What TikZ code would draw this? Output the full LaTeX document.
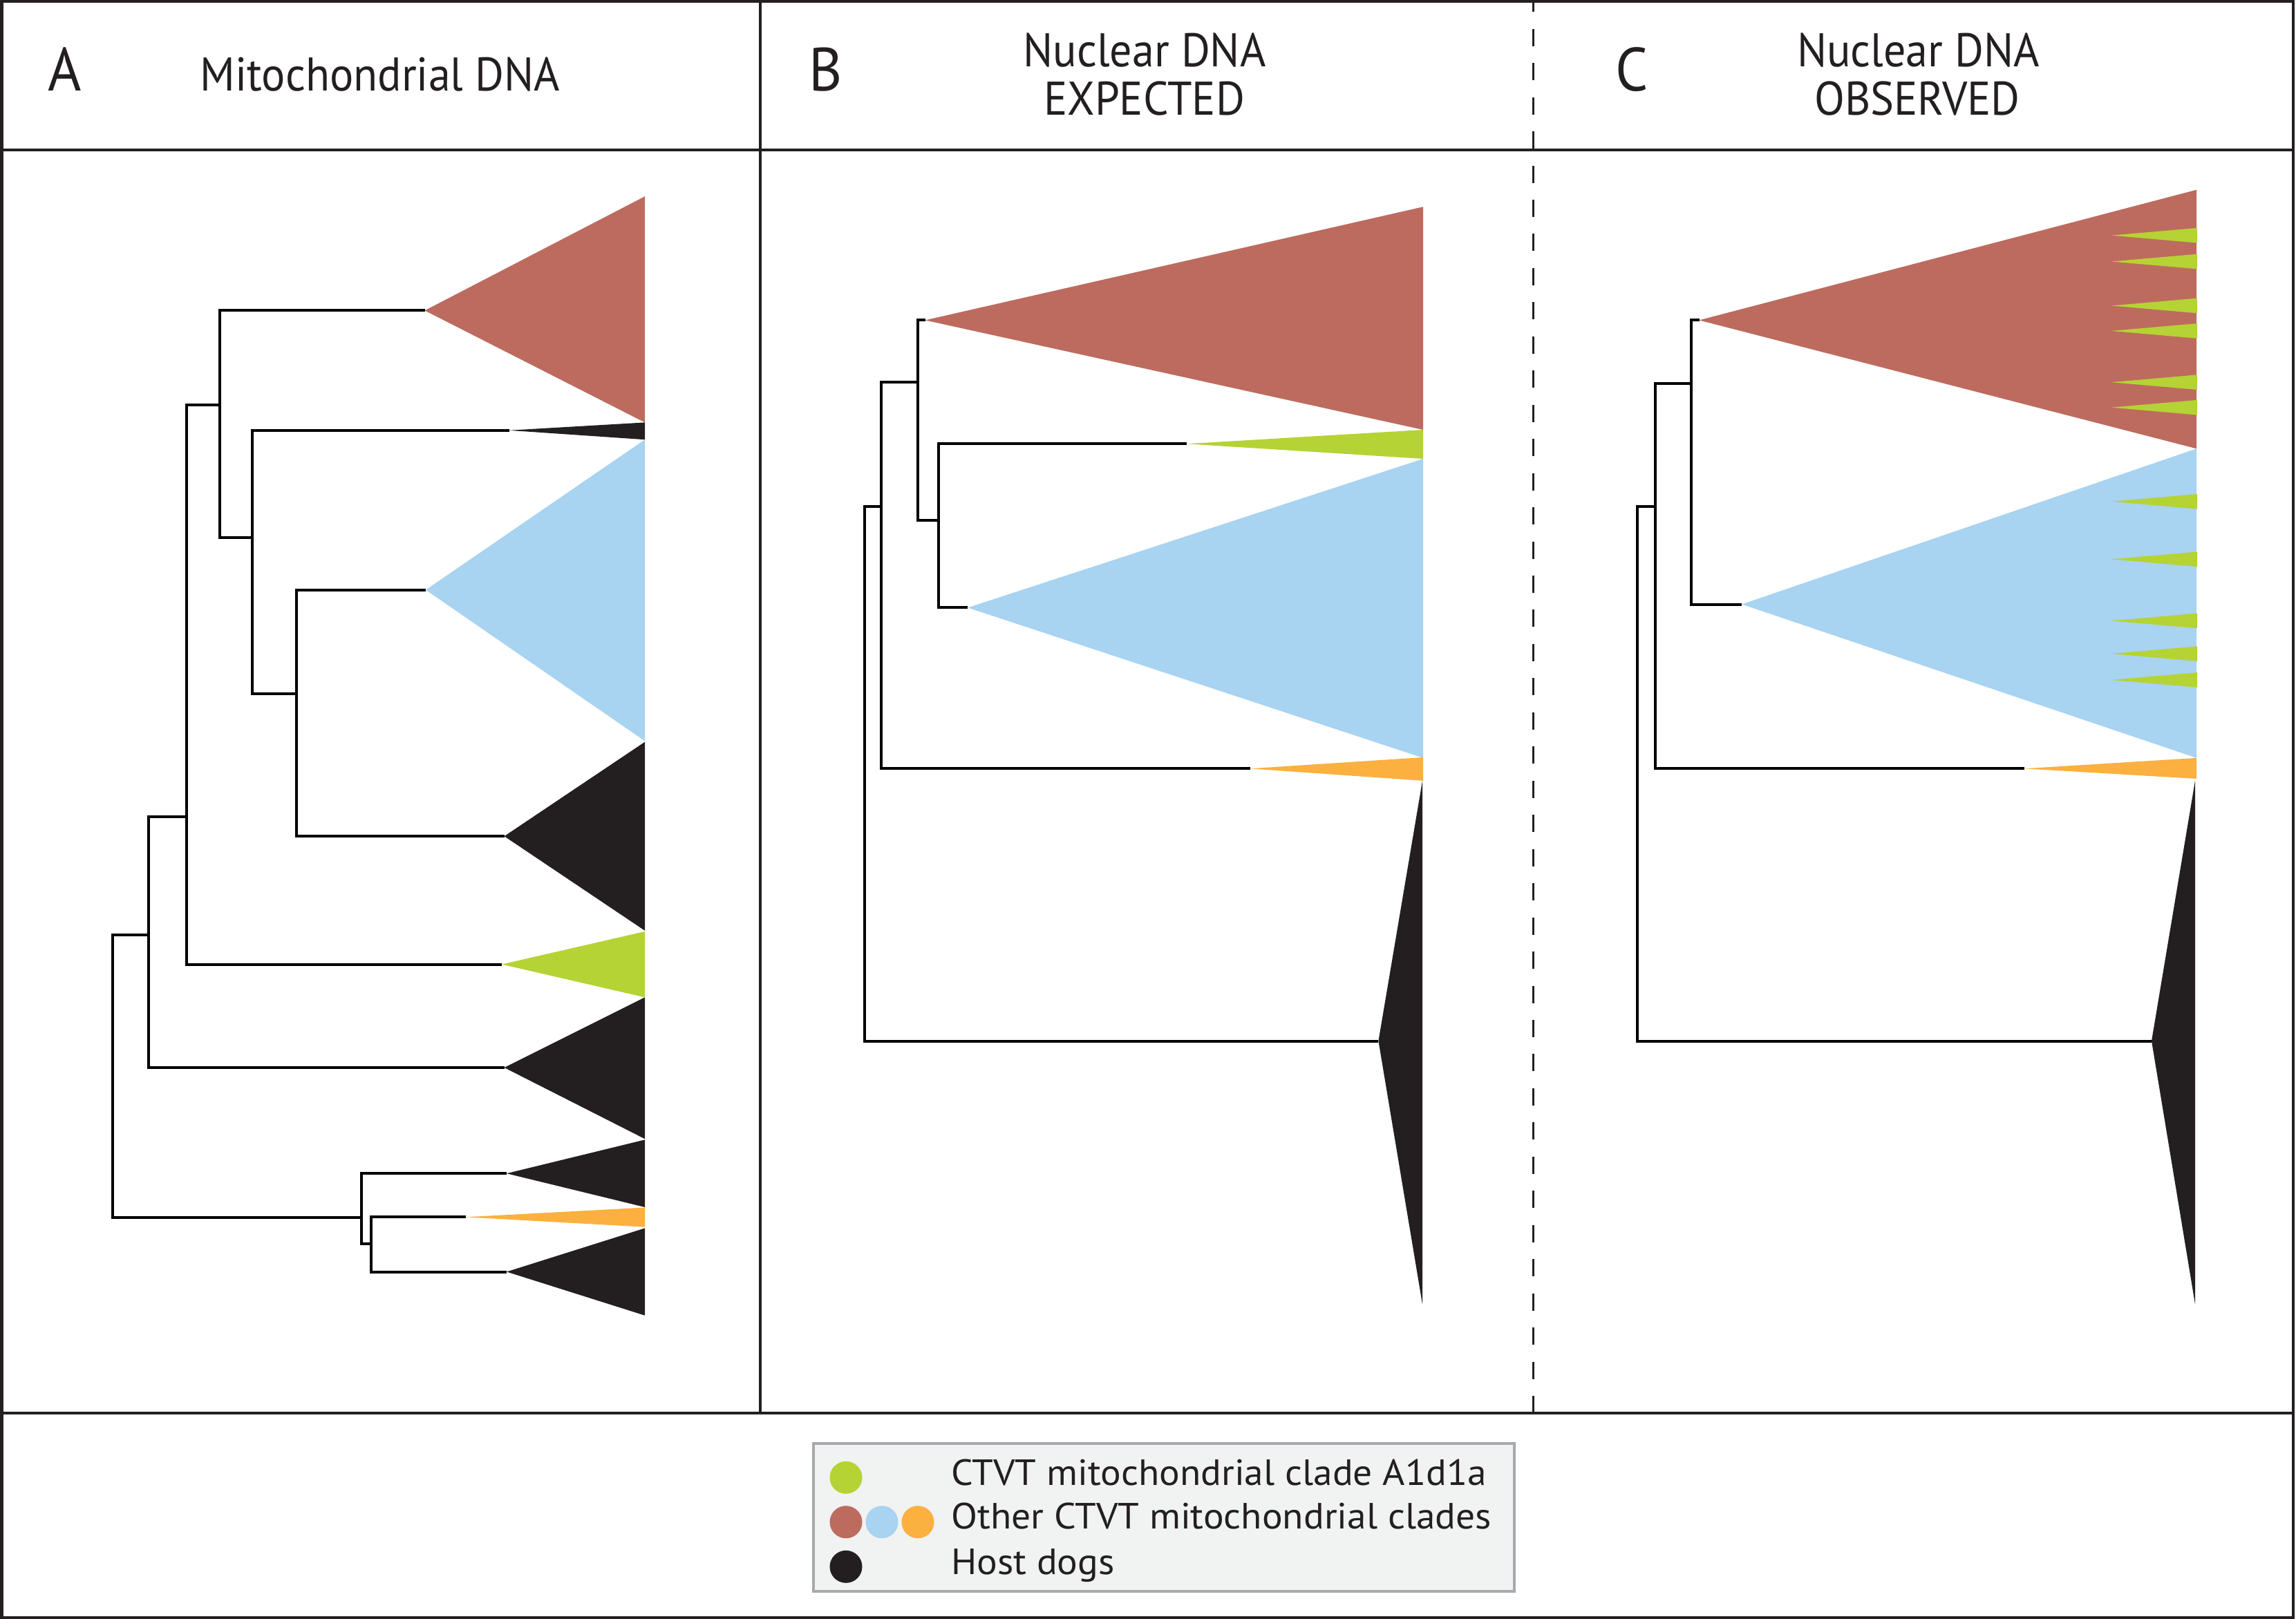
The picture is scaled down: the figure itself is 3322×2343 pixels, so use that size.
\documentclass[tikz,border=0pt]{standalone}
\usepackage{fontspec}
\setmainfont{PT Sans}
\newfontfamily\titlefont{PT Sans}[FakeStretch=0.937]
\newfontfamily\legfont{PT Sans}[FakeStretch=1.05]
\definecolor{cred}{HTML}{BD6B5F}
\definecolor{cblue}{HTML}{A8D3F1}
\definecolor{cgreen}{HTML}{B5D334}
\definecolor{corange}{HTML}{FBB040}
\definecolor{cblack}{HTML}{231F20}
\definecolor{legfill}{HTML}{F1F2F2}
\definecolor{legdraw}{HTML}{A7A9AC}
\newcommand\cladetri[5]{\fill[#1] (#2) -- (#3,#4) -- (#3,#5) -- cycle;}
\begin{document}
\begin{tikzpicture}[x=0.25pt,y=-0.25pt,
  frame/.style={draw=cblack, line width=1pt},
  dashline/.style={draw=cblack, line width=0.7pt, dash pattern=on 6.25pt off 6.115pt, dash phase=2.57pt},
  branch/.style={draw=black, line width=1pt},
  letter/.style={inner sep=0, anchor=base west, text=cblack, font=\titlefont\fontsize{22.1}{26}\selectfont},
  title/.style={inner sep=0, anchor=base, text=cblack, font=\titlefont\fontsize{17.1}{20}\selectfont},
  legtext/.style={inner sep=0, anchor=base west, text=cblack, font=\legfont\fontsize{13.2}{16}\selectfont},
  legbox/.style={draw=legdraw, fill=legfill, line width=1pt, inner sep=0, minimum width=253.5pt, minimum height=53.6pt},
  dot/.style={circle, inner sep=0, minimum size=11.75pt}
]
\useasboundingbox (0,0) rectangle (3322,2343);

% ---------- frame ----------
\draw[frame] (2.5,2.5) rectangle (3318,2341);
\draw[frame] (2.5,217) -- (3318,217);
\draw[frame] (2.5,2045) -- (3318,2045);
\draw[frame] (1099.6,2.5) -- (1099.6,2045);
\draw[dashline] (2218.5,2.5) -- (2218.5,2045);

% ---------- headers ----------
\node[letter] (hA) at (69,132) {A};
\node[title] (tA) at (550,132) {Mitochondrial DNA};
\node[letter] (hB) at (1170,132) {B};
\node[title] (tB1) at (1656,97) {Nuclear DNA};
\node[title] (tB2) at (1655.5,167) {EXPECTED};
\node[letter] (hC) at (2337,132) {C};
\node[title] (tC1) at (2775.6,97) {Nuclear DNA};
\node[title] (tC2) at (2774,167) {OBSERVED};

% ---------- panel A ----------
\coordinate (aR) at (614.5,449.4);
\coordinate (aK1) at (736.6,622.8);
\coordinate (aB) at (616,853.7);
\coordinate (aK2) at (729.6,1210.2);
\coordinate (aG) at (726,1395.6);
\coordinate (aK3) at (729.6,1545);
\coordinate (aK4) at (733,1698.2);
\coordinate (aO) at (673.5,1761.3);
\coordinate (aK5) at (733,1840.5);
\coordinate (an1) at (317.8,585.8);
\coordinate (an3) at (364.8,778.4);
\coordinate (an4) at (429.3,1003.6);
\coordinate (an2) at (270,1182);
\coordinate (an5) at (215.4,1352.6);
\coordinate (an6) at (162.8,1557);
\coordinate (an7) at (522.6,1761.9);
\coordinate (an8) at (536.7,1800.4);

\draw[branch] (an1) |- (aR);
\draw[branch] (an1) |- (an3);
\draw[branch] (an3) |- (aK1);
\draw[branch] (an3) |- (an4);
\draw[branch] (an4) |- (aB);
\draw[branch] (an4) |- (aK2);
\draw[branch] (an2) |- (an1);
\draw[branch] (an2) |- (aG);
\draw[branch] (an5) |- (an2);
\draw[branch] (an5) |- (aK3);
\draw[branch] (an6) |- (an5);
\draw[branch] (an6) |- (an7);
\draw[branch] (an7) |- (aK4);
\draw[branch] (an7) |- (an8);
\draw[branch] (an8) |- (aO);
\draw[branch] (an8) |- (aK5);

\cladetri{cred}{aR}{933}{284.2}{611.4}
\cladetri{cblack}{aK1}{933}{611.4}{636.2}
\cladetri{cblue}{aB}{933}{636.2}{1072.4}
\cladetri{cblack}{aK2}{933}{1073.7}{1346.8}
\cladetri{cgreen}{aG}{933}{1348}{1443.3}
\cladetri{cblack}{aK3}{933}{1443.3}{1648.2}
\cladetri{cblack}{aK4}{933}{1649.4}{1747}
\cladetri{corange}{aO}{933}{1747.5}{1775.7}
\cladetri{cblack}{aK5}{933}{1777.4}{1903.7}

% ---------- panel B ----------
\coordinate (bR) at (1338.5,463.4);
\coordinate (bG) at (1717.3,642.3);
\coordinate (bB) at (1400.2,879.4);
\coordinate (bO) at (1808.5,1112.3);
\coordinate (bK) at (1994.4,1506.5);
\coordinate (bn1) at (1328,553.2);
\coordinate (bn3) at (1357.5,753.1);
\coordinate (bn2) at (1275.4,733.5);
\coordinate (bn4) at (1250.8,1120);

\draw[branch] (bn1) |- (bR);
\draw[branch] (bn1) |- (bn3);
\draw[branch] (bn3) |- (bG);
\draw[branch] (bn3) |- (bB);
\draw[branch] (bn2) |- (bn1);
\draw[branch] (bn2) |- (bO);
\draw[branch] (bn4) |- (bn2);
\draw[branch] (bn4) |- (bK);

\cladetri{cred}{bR}{2059}{299.3}{622}
\cladetri{cgreen}{bG}{2059}{622}{664}
\cladetri{cblue}{bB}{2059}{664}{1096.9}
\cladetri{corange}{bO}{2059}{1096}{1129.9}
\cladetri{cblack}{bK}{2058}{1130}{1887.4}

% ---------- panel C ----------
\coordinate (cR) at (2458.5,463.4);
\coordinate (cB) at (2520.2,874.5);
\coordinate (cO) at (2928.5,1112.3);
\coordinate (cK) at (3113,1506.5);
\coordinate (cn1) at (2446.6,554.6);
\coordinate (cn2) at (2395.4,733.5);
\coordinate (cn3) at (2368.7,1120);

\draw[branch] (cn1) |- (cR);
\draw[branch] (cn1) |- (cB);
\draw[branch] (cn2) |- (cn1);
\draw[branch] (cn2) |- (cO);
\draw[branch] (cn3) |- (cn2);
\draw[branch] (cn3) |- (cK);

\cladetri{cred}{cR}{3178}{274.7}{649.3}
\cladetri{cblue}{cB}{3178}{649.3}{1096.9}
\cladetri{corange}{cO}{3178}{1096.9}{1127}
\cladetri{cblack}{cK}{3176}{1129.8}{1887.4}

\foreach \yy [count=\i] in {340.7,378.5,442.4,478.9,553.2,589.7,725.8,809.3,898.4,946.1,984.0}{
  \coordinate (cg\i) at (3054.8,\yy);
  \fill[cgreen] (cg\i) -- (3179,\yy-10.8) -- (3179,\yy+10.8) -- cycle;
}

% ---------- legend ----------
\node[legbox] (legend) at (1683.5,2196) {};
\node[dot, fill=cgreen] (dG) at (1224,2138.3) {};
\node[dot, fill=cred] (dR) at (1224,2202.7) {};
\node[dot, fill=cblue] (dB) at (1276,2202.7) {};
\node[dot, fill=corange] (dO) at (1328,2202.7) {};
\node[dot, fill=cblack] (dK) at (1224,2267.3) {};
\node[legtext] (l1) at (1375.5,2149) {CTVT mitochondrial clade A1d1a};
\node[legtext] (l2) at (1375.5,2212.7) {Other CTVT mitochondrial clades};
\node[legtext] (l3) at (1375.5,2278.3) {Host dogs};
\end{tikzpicture}
\end{document}
